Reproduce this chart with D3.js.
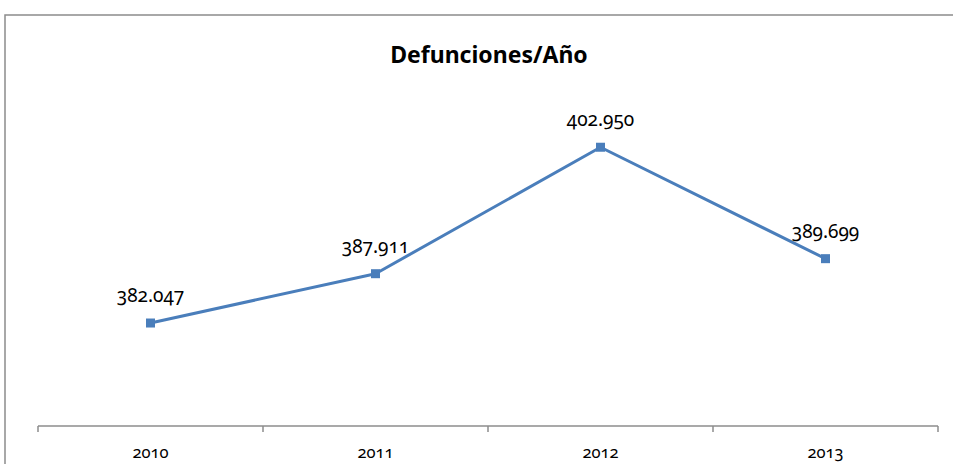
<!DOCTYPE html>
<html>
<head>
<meta charset="utf-8">
<script src="https://cdn.jsdelivr.net/npm/d3@7"></script>
<style>
  body { margin: 0; background: #fff; }
  svg { display: block; }
  .num { font-family: "Noto Sans", sans-serif; font-variant-numeric: oldstyle-nums; }
</style>
</head>
<body>
<div class="chart-container"></div>
<script>
// data
const years = ["2010", "2011", "2012", "2013"];
const deaths = [382047, 387911, 402950, 389699];
const labels = ["382.047", "387.911", "402.950", "389.699"];

const width = 953;
const height = 464;
const blue = "#4a7ebb";

const svg = d3.select(".chart-container")
  .append("svg")
  .attr("width", width)
  .attr("height", height);

// chart frame (runs off the right and bottom edges)
svg.append("rect")
  .attr("x", 5)
  .attr("y", 15)
  .attr("width", 1000)
  .attr("height", 500)
  .attr("fill", "#fff")
  .attr("stroke", "#8c8c8c")
  .attr("stroke-width", 1.5);

// title
svg.append("text")
  .attr("x", 489)
  .attr("y", 63)
  .attr("text-anchor", "middle")
  .style("font-family", "'Noto Sans', sans-serif")
  .style("font-weight", "bold")
  .style("font-size", "23px")
  .text("Defunciones/Año");

// scales
const x = d3.scaleBand().domain(years).range([38, 938]);
const y = d3.scaleLinear().domain([369800, 405000]).range([426, 130]);

// x axis
const xAxis = svg.append("g")
  .attr("transform", "translate(0,426)")
  .call(d3.axisBottom(x).tickSize(0).tickPadding(0).tickFormat(""));
xAxis.select(".domain").remove();

xAxis.append("line")
  .attr("x1", 38).attr("x2", 938)
  .attr("stroke", "#8c8c8c").attr("stroke-width", 1.5);

const edges = years.map((d) => x(d)).concat([x(years[years.length - 1]) + x.bandwidth()]);
xAxis.selectAll(".edge")
  .data(edges)
  .join("line")
  .attr("class", "edge")
  .attr("x1", (d) => d).attr("x2", (d) => d)
  .attr("y1", 0).attr("y2", 6)
  .attr("stroke", "#8c8c8c").attr("stroke-width", 1.5);

xAxis.selectAll(".yr")
  .data(years)
  .join("text")
  .attr("class", "yr num")
  .attr("x", (d) => x(d) + x.bandwidth() / 2)
  .attr("y", 32)
  .attr("text-anchor", "middle")
  .style("font-size", "16.5px")
  .attr("fill", "#000")
  .text((d) => d);

// line
const pts = years.map((d, i) => ({ year: d, value: deaths[i], label: labels[i] }));
const cx = (d) => x(d.year) + x.bandwidth() / 2;

const line = d3.line().x(cx).y((d) => y(d.value));

svg.append("path")
  .datum(pts)
  .attr("fill", "none")
  .attr("stroke", blue)
  .attr("stroke-width", 3)
  .attr("stroke-linejoin", "round")
  .attr("d", line);

// markers
svg.selectAll(".marker")
  .data(pts)
  .join("rect")
  .attr("class", "marker")
  .attr("x", (d) => cx(d) - 4.5)
  .attr("y", (d) => y(d.value) - 4.5)
  .attr("width", 9)
  .attr("height", 9)
  .attr("fill", blue);

// value labels
svg.selectAll(".val")
  .data(pts)
  .join("text")
  .attr("class", "val num")
  .attr("x", cx)
  .attr("y", (d) => y(d.value) - 21)
  .attr("text-anchor", "middle")
  .style("font-size", "19px")
  .text((d) => d.label);
</script>
</body>
</html>
